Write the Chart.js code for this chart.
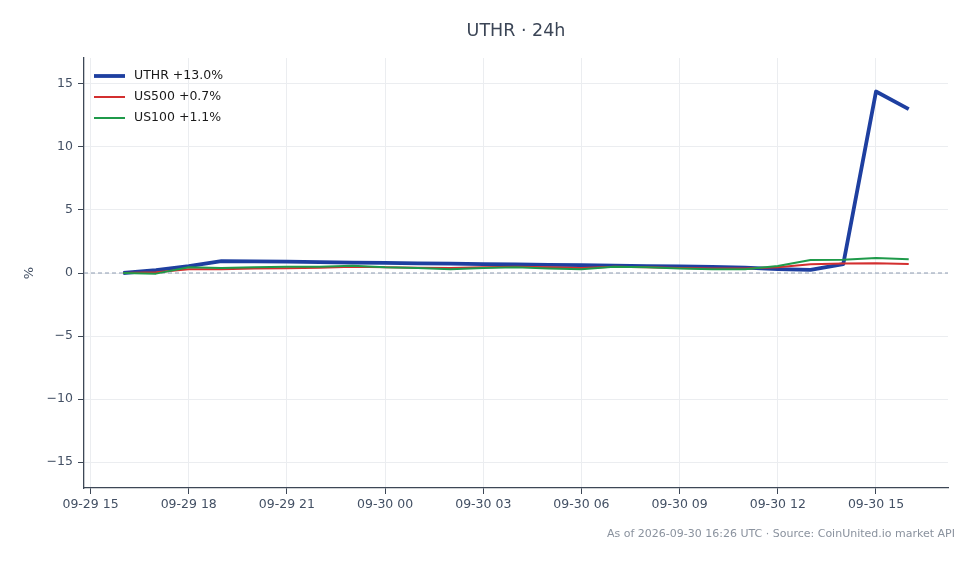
<!DOCTYPE html>
<html><head><meta charset="utf-8">
<script src="https://cdn.jsdelivr.net/npm/chart.js@4.4.0/dist/chart.umd.min.js"></script>
<style>html,body{margin:0;padding:0;background:#fff;}canvas{display:block;}</style>
</head><body>
<canvas id="c" width="979" height="564"></canvas>
<script>
const TITLE = 'UTHR · 24h';
const FOOTER = 'As of 2026-09-30 16:26 UTC · Source: CoinUnited.io market API';
const Y_TITLE = '%';
// hours since 2026-09-29 00:00 UTC
const hours = [16,17,18,19,20,21,22,23,24,25,26,27,28,29,30,31,32,33,34,35,36,37,38,39,40];
const uthr  = [0.0,0.22,0.55,0.95,0.93,0.9,0.87,0.83,0.8,0.77,0.74,0.71,0.68,0.65,0.62,0.58,0.55,0.52,0.48,0.42,0.3,0.25,0.7,14.4,13.0];
const us500 = [0.0,0.05,0.3,0.3,0.35,0.38,0.42,0.5,0.45,0.42,0.4,0.45,0.5,0.45,0.4,0.5,0.45,0.4,0.35,0.35,0.45,0.7,0.75,0.78,0.72];
const us100 = [0.0,-0.05,0.45,0.4,0.45,0.5,0.5,0.58,0.45,0.4,0.3,0.4,0.45,0.35,0.3,0.5,0.45,0.35,0.3,0.3,0.55,1.03,1.05,1.2,1.1];
const seriesNames = ['UTHR +13.0%','US500 +0.7%','US100 +1.1%'];
const xTickHours = [15,18,21,24,27,30,33,36,39];
const xTickLabels = ['09-29 15','09-29 18','09-29 21','09-30 00','09-30 03','09-30 06','09-30 09','09-30 12','09-30 15'];
const yTicks = [-15,-10,-5,0,5,10,15];

const FONT = 'DejaVu Sans';
const TEXT = '#435064';
const AXIS = '#3d4756';
const GRID = '#ebedf0';

const pts = arr => hours.map((h,i)=>({x:h,y:arr[i]}));

const extras = {
  id:'extras',
  beforeDatasetsDraw(chart){
    const {ctx, chartArea:a, scales:{y}} = chart;
    const y0 = y.getPixelForValue(0);
    ctx.save();
    ctx.strokeStyle = '#8d9bb0';
    ctx.lineWidth = 1;
    ctx.setLineDash([4,3]);
    ctx.beginPath(); ctx.moveTo(a.left, y0); ctx.lineTo(a.right, y0); ctx.stroke();
    ctx.restore();
  },
  afterDraw(chart){
    const {ctx, chartArea:a} = chart;
    ctx.save();
    ctx.fillStyle = '#3b4556';
    ctx.font = '17.5px "'+FONT+'"';
    ctx.textAlign = 'center'; ctx.textBaseline = 'middle';
    ctx.fillText(TITLE, (a.left+a.right)/2, 31);
    ctx.fillStyle = '#8a929e';
    ctx.font = '11px "'+FONT+'"';
    ctx.textAlign = 'right';
    ctx.fillText(FOOTER, 955, 534);
    ctx.textAlign = 'left';
    ctx.font = '12.5px "'+FONT+'"';
    chart.data.datasets.forEach((ds,i)=>{
      const ly = 76 + i*21;
      const lx = a.left + 10;
      ctx.strokeStyle = ds.borderColor;
      ctx.lineWidth = ds.borderWidth;
      ctx.lineCap = 'butt';
      ctx.beginPath(); ctx.moveTo(lx, ly); ctx.lineTo(lx+31, ly); ctx.stroke();
      ctx.fillStyle = '#1a1a1a';
      ctx.fillText(ds.label, lx+40, ly);
    });
    ctx.restore();
  }
};

new Chart(document.getElementById('c'), {
  type:'line',
  data:{datasets:[
    {label:seriesNames[0], data:pts(uthr), borderColor:'#1e3fa0', backgroundColor:'#1e3fa0', borderWidth:3.8, order:2},
    {label:seriesNames[1], data:pts(us500), borderColor:'#d32f2f', backgroundColor:'#d32f2f', borderWidth:2, order:1},
    {label:seriesNames[2], data:pts(us100), borderColor:'#1f9a4a', backgroundColor:'#1f9a4a', borderWidth:2, order:0}
  ]},
  options:{
    responsive:false, animation:false, devicePixelRatio:1,
    layout:{padding:{top:58,right:31,bottom:0,left:0}},
    elements:{point:{radius:0,hoverRadius:0}, line:{tension:0, borderJoinStyle:'round', borderCapStyle:'butt'}},
    plugins:{
      title:{display:false},
      tooltip:{enabled:false},
      legend:{display:false}
    },
    scales:{
      x:{
        type:'linear', min:14.8, max:41.2,
        afterBuildTicks:ax=>{ax.ticks = xTickHours.map(v=>({value:v}));},
        afterFit:ax=>{ax.height = 76;},
        ticks:{callback:(v,i)=>xTickLabels[i], font:{family:FONT,size:12.5}, color:TEXT, padding:3, maxRotation:0, autoSkip:false},
        grid:{color:GRID, tickColor:AXIS, tickLength:6, lineWidth:1},
        border:{color:AXIS, width:1.3}
      },
      y:{
        type:'linear', min:-17.06, max:17.06,
        afterBuildTicks:ax=>{ax.ticks = yTicks.map(v=>({value:v}));},
        afterFit:ax=>{ax.width = 84;},
        ticks:{callback:v=>(v<0?'\u2212'+Math.abs(v):String(v)), font:{family:FONT,size:12.5}, color:TEXT, padding:5},
        grid:{color:GRID, tickColor:AXIS, tickLength:6, lineWidth:1},
        border:{color:AXIS, width:1.3},
        title:{display:true, text:Y_TITLE, font:{family:FONT,size:13}, color:TEXT, padding:{top:22,bottom:0}}
      }
    }
  },
  plugins:[extras]
});
</script>
</body></html>
